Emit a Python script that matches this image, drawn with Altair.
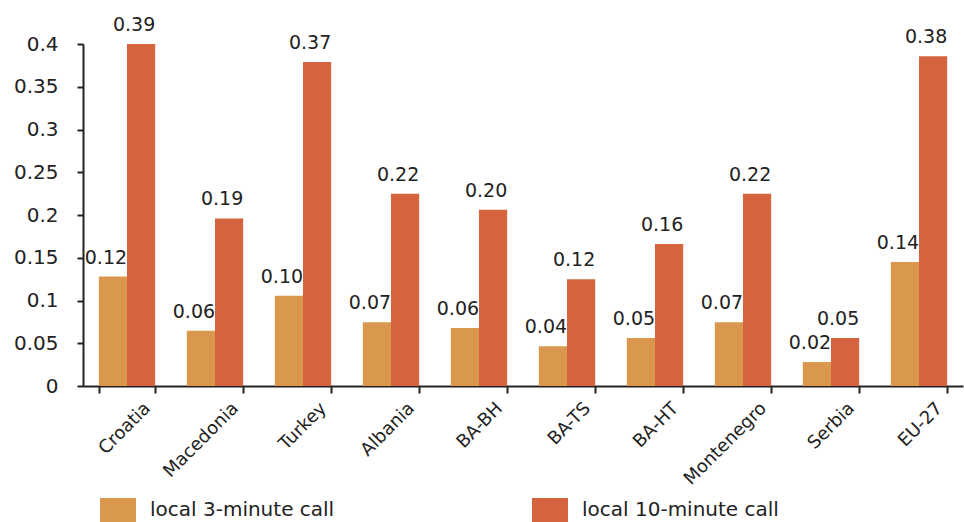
import altair as alt
import pandas as pd

countries = ["Croatia", "Macedonia", "Turkey", "Albania", "BA-BH",
             "BA-TS", "BA-HT", "Montenegro", "Serbia", "EU-27"]
call3 = [0.128, 0.0645, 0.1056, 0.0747, 0.0677, 0.0466, 0.056, 0.0747, 0.028, 0.145]
call10 = [0.400, 0.196, 0.379, 0.225, 0.206, 0.125, 0.166, 0.225, 0.056, 0.3856]
label3 = ["0.12", "0.06", "0.10", "0.07", "0.06", "0.04", "0.05", "0.07", "0.02", "0.14"]
label10 = ["0.39", "0.19", "0.37", "0.22", "0.20", "0.12", "0.16", "0.22", "0.05", "0.38"]
series = ["local 3-minute call", "local 10-minute call"]
colors = ["#D9984E", "#D5633D"]

rows = []
for i, c in enumerate(countries):
    rows.append({"country": c, "series": series[0], "value": call3[i], "label": label3[i]})
    rows.append({"country": c, "series": series[1], "value": call10[i], "label": label10[i]})
df = pd.DataFrame(rows)

FONT = "DejaVu Sans"

x = alt.X("country:N", sort=countries, title=None,
          scale=alt.Scale(paddingInner=0.36, paddingOuter=0.18),
          axis=alt.Axis(labelAngle=-45, labelFontSize=18, labelFont=FONT,
                        labelColor="#222222", domainColor="#222222", domainWidth=2,
                        tickColor="#222222", tickWidth=2, tickSize=7, grid=False,
                        tickBand="extent", labelPadding=6, labelOffset=14))
xoff = alt.XOffset("series:N", sort=series)
y = alt.Y("value:Q", title=None,
          scale=alt.Scale(domain=[0, 0.4], nice=False),
          axis=alt.Axis(values=[0, 0.05, 0.1, 0.15, 0.2, 0.25, 0.3, 0.35, 0.4],
                        format="~g", grid=False, labelFontSize=20, labelFont=FONT,
                        labelColor="#222222", domainColor="#222222", domainWidth=2,
                        tickColor="#222222", tickWidth=2, tickSize=6, labelPadding=19))

color = alt.Color("series:N", sort=series,
                  scale=alt.Scale(domain=series, range=colors),
                  legend=alt.Legend(title=None, orient="none", legendX=20, legendY=451,
                                    direction="horizontal", columns=2, columnPadding=197,
                                    symbolType="M-1.2,-0.8H1.2V0.8H-1.2Z", symbolSize=900,
                                    symbolStrokeWidth=0, symbolOpacity=1,
                                    labelFontSize=20, labelFont=FONT, labelColor="#222222",
                                    labelOffset=17, labelLimit=400))

bars = alt.Chart(df).mark_bar(opacity=1).encode(x=x, xOffset=xoff, y=y, color=color)
texts = alt.Chart(df).mark_text(font=FONT, fontSize=19, color="#222222",
                                baseline="alphabetic", dy=-13, dx=-7).encode(
    x=alt.X("country:N", sort=countries),
    xOffset=xoff, y="value:Q", text="label:N")

chart = alt.layer(bars, texts).properties(
    width=880, height=342,
    autosize=alt.AutoSizeParams(type="none"),
    padding={"left": 83, "top": 44, "right": 1, "bottom": 136},
).configure(background="white").configure_view(stroke=None)

chart.save("out.html", embed_options={"renderer": "svg", "actions": False})
